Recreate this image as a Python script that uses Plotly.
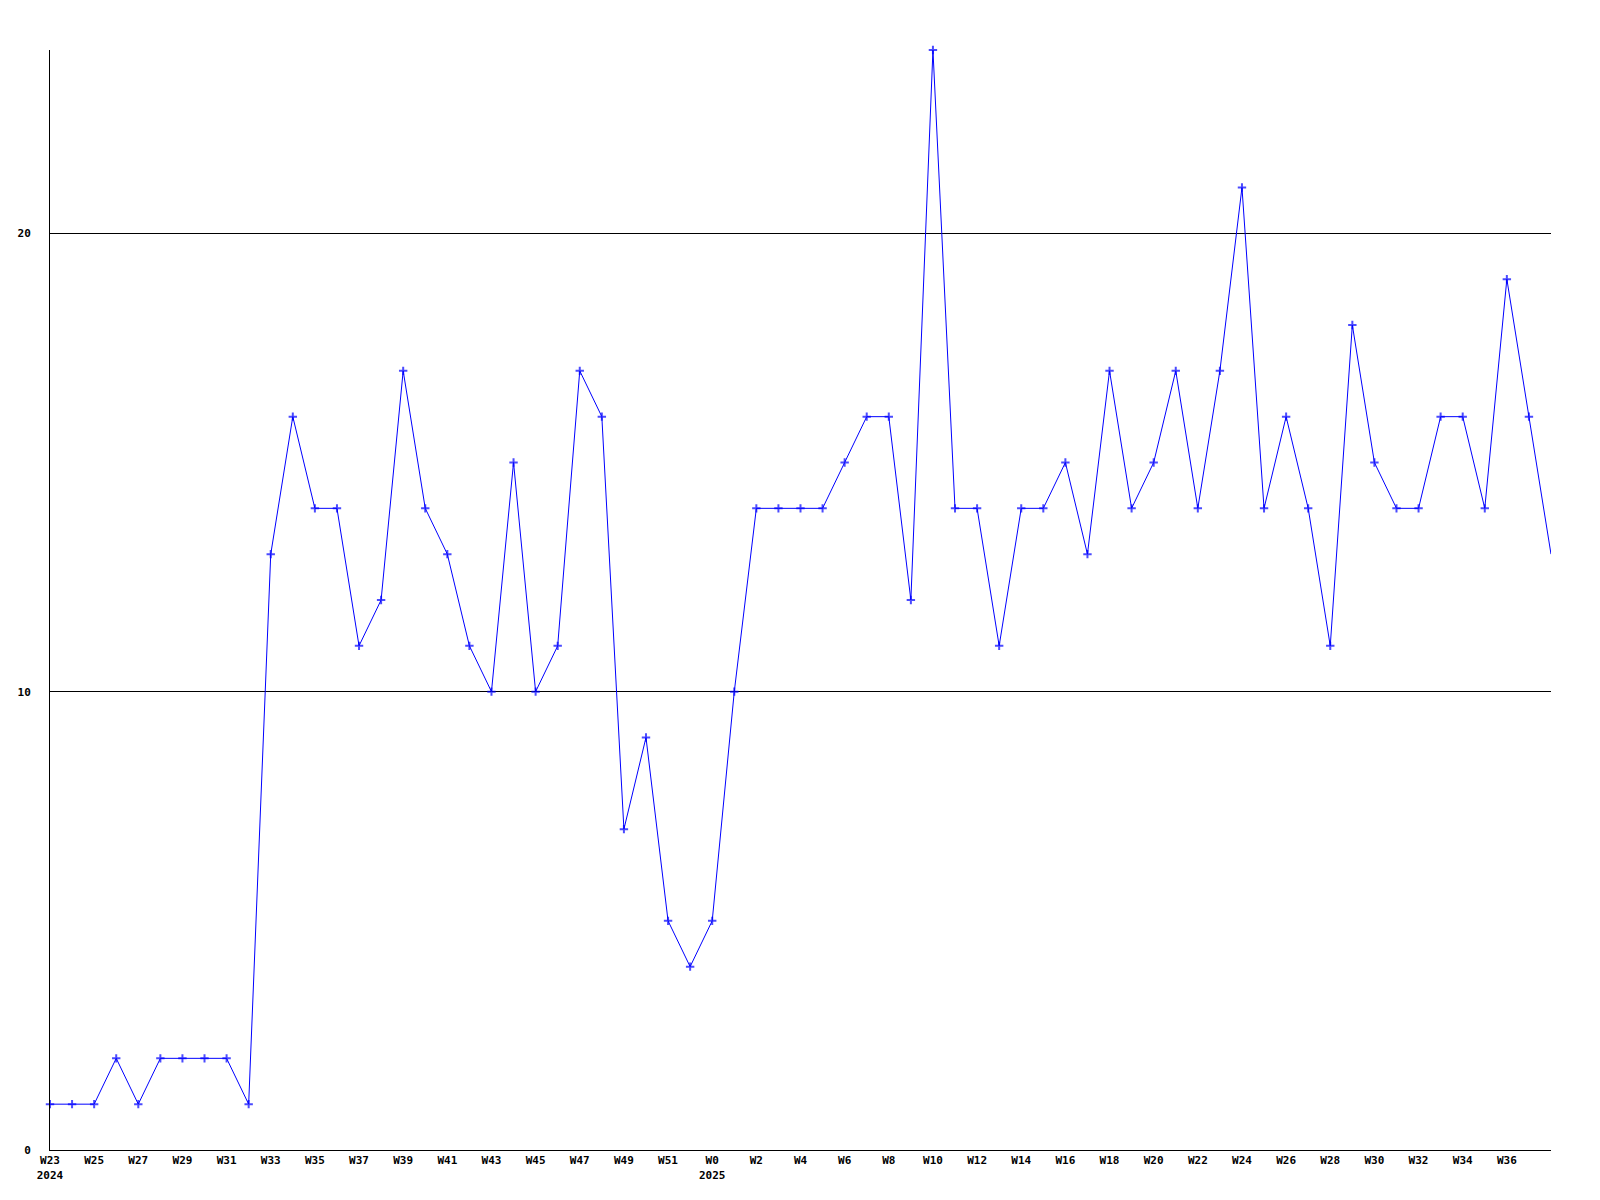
import plotly.graph_objects as go

weeks = ["W23", "W24", "W25", "W26", "W27", "W28", "W29", "W30", "W31", "W32",
         "W33", "W34", "W35", "W36", "W37", "W38", "W39", "W40", "W41", "W42",
         "W43", "W44", "W45", "W46", "W47", "W48", "W49", "W50", "W51", "W52",
         "W0", "W1", "W2", "W3", "W4", "W5", "W6", "W7", "W8", "W9",
         "W10", "W11", "W12", "W13", "W14", "W15", "W16", "W17", "W18", "W19",
         "W20", "W21", "W22", "W23", "W24", "W25", "W26", "W27", "W28", "W29",
         "W30", "W31", "W32", "W33", "W34", "W35", "W36", "W37", "W38"]
years = {0: "2024", 30: "2025"}
values = [1, 1, 1, 2, 1, 2, 2, 2, 2, 1,
          13, 16, 14, 14, 11, 12, 17, 14, 13, 11,
          10, 15, 10, 11, 17, 16, 7, 9, 5, 4,
          5, 10, 14, 14, 14, 14, 15, 16, 16, 12,
          24, 14, 14, 11, 14, 14, 15, 13, 17, 14,
          15, 17, 14, 17, 21, 14, 16, 14, 11, 18,
          15, 14, 14, 16, 16, 14, 19, 16, 13]
y_ticks = [0, 10, 20]

idx = list(range(len(values)))
tickvals = idx[:-1:2]
ticktext = []
for i in tickvals:
    t = "<b>" + weeks[i] + "</b>"
    if i in years:
        t += "<br><b>" + years[i] + "</b>"
    ticktext.append(t)

marker_sizes = [6] * (len(values) - 1) + [0]

fig = go.Figure()
fig.add_trace(go.Scatter(
    x=idx, y=values, mode="lines+markers",
    line=dict(color="#0000ff", width=1),
    marker=dict(symbol="cross-thin", size=marker_sizes, color="#0000ff",
                line=dict(color="#0000ff", width=2)),
    cliponaxis=False, showlegend=False,
))

fig.update_layout(
    width=1584, height=1184,
    margin=dict(l=42, r=41, t=42, b=42),
    paper_bgcolor="white", plot_bgcolor="white",
    font=dict(family="DejaVu Sans Mono", size=11, color="black"),
    xaxis=dict(range=[0, len(values) - 1], tickmode="array", tickvals=tickvals,
               ticktext=ticktext, showgrid=False, zeroline=False,
               showline=True, linecolor="black", linewidth=1, ticks="",
               tickangle=0, automargin=False),
    yaxis=dict(range=[0, 24], tickmode="array", tickvals=y_ticks,
               ticktext=["<b>%d</b>" % v for v in y_ticks],
               showgrid=True, gridcolor="black", gridwidth=1, zeroline=False,
               showline=True, linecolor="black", linewidth=1, ticks="",
               ticklabelstandoff=16, automargin=False),
)

fig.write_html("out.html")
